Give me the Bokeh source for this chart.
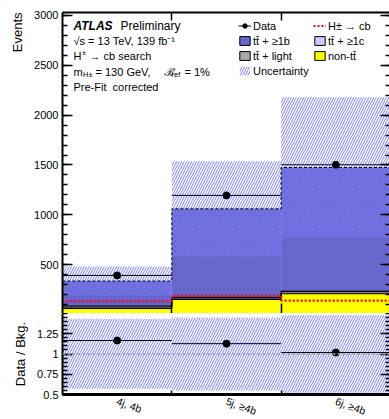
import numpy as np
from bokeh.plotting import figure
from bokeh.layouts import column
from bokeh.models import (FixedTicker, LinearAxis, Range1d, Legend, LegendItem,
                          Label, Title, Span)
from bokeh.embed import file_html
from bokeh.resources import INLINE

# ---------------- data ----------------
bins = ["4j, 4b", "5j, \u22654b", "6j, \u22654b"]
edges = [0, 1, 2, 3]
non_tt = [60, 150, 208]
tt_light = [15, 14, 20]
tt_1c = [10, 8, 6]
tt_1b = [251, 888, 1241]
uncertainty = [145, 478, 705]
data = [392, 1195, 1502]
signal = [133, 186, 140]

FONT = "Liberation Sans"

left = edges[:-1]
right = edges[1:]
c1 = np.array(non_tt, float)
c2 = c1 + np.array(tt_light)
c3 = c2 + np.array(tt_1c)
total = c3 + np.array(tt_1b)
unc = np.array(uncertainty, float)
dat = np.array(data, float)
ratio = dat / total
rel = unc / total


def stepy(v):
    v = list(v)
    return v + [v[-1]]


# ---------------- upper panel ----------------
Y0, Y1 = 10, 3030
p1 = figure(frame_width=328, frame_height=301, x_range=Range1d(0, 3),
            y_range=Range1d(Y0, Y1), output_backend="svg", toolbar_location=None,
            min_border_left=61, min_border_right=0, min_border_top=12,
            min_border_bottom=0)
p1.outline_line_color = None
p1.grid.visible = False
p1.background_fill_color = "white"

HATCH = "#7e7eff"
HSCALE = 5
stack_cols = ["#ffff00", "#a9a9a9", "#ccccff", "#6666cc"]
bottoms = [np.zeros(3), c1, c2, c3]
tops = [c1, c2, c3, total]
for b, t, col in zip(bottoms, tops, stack_cols):
    p1.quad(left=left, right=right, bottom=b, top=t, fill_color=col, line_color=None)

unc_r = p1.quad(left=left, right=right, bottom=total - unc, top=total + unc,
                fill_alpha=0, line_color=None, hatch_pattern="/",
                hatch_color=HATCH, hatch_weight=1, hatch_scale=HSCALE)

for t in [c1, c2, c3]:
    p1.step(x=edges, y=stepy(t), mode="after", line_color="black", line_width=1)
p1.step(x=edges, y=stepy(total), mode="after", line_color="black",
        line_width=1, line_dash="3 2")

sig_r = p1.step(x=edges, y=stepy(signal), mode="after", line_color="#ff0000",
                line_width=2.2, line_dash="2 2")

seg_r = p1.segment(x0=left, x1=right, y0=dat, y1=dat, line_color="black", line_width=1)
pts_r = p1.scatter(x=[0.5, 1.5, 2.5], y=dat, size=7, fill_color="black",
                   line_color="black")

# legend proxies: zero-height boxes at the foot of the stack (outside the view)
prox = {}
for name, col in zip(["nontt", "light", "c", "b"], stack_cols):
    prox[name] = p1.quad(left=left, right=right, bottom=c1 * 0, top=c1 * 0,
                         fill_color=col, line_color="black", line_width=1)

common = dict(background_fill_alpha=0, border_line_color=None, padding=0,
              margin=0, spacing=2, glyph_width=13, glyph_height=11,
              label_height=13, label_standoff=2, label_text_font_size="11px",
              label_text_font=FONT, label_text_color="black")
leg_l = Legend(items=[
    LegendItem(label="Data", renderers=[seg_r, pts_r]),
    LegendItem(label="tt\u0304 + \u22651b", renderers=[prox["b"]]),
    LegendItem(label="tt\u0304 + light", renderers=[prox["light"]]),
    LegendItem(label="Uncertainty", renderers=[unc_r]),
], location=(176, 236), **common)
leg_r = Legend(items=[
    LegendItem(label="H\u00b1 \u2192 cb", renderers=[sig_r]),
    LegendItem(label="tt\u0304 + \u22651c", renderers=[prox["c"]]),
    LegendItem(label="non-tt\u0304", renderers=[prox["nontt"]]),
], location=(251, 251), **common)
p1.add_layout(leg_l, "center")
p1.add_layout(leg_r, "center")


def px(xp):
    return (xp - 61) / 328 * 3


def py(yp):
    return Y0 + (313 - yp) / 301 * (Y1 - Y0)


def lab(xp, yp, text, size=11, style="normal", dy=0):
    p1.add_layout(Label(x=px(xp), y=py(yp), text=text, text_font=FONT,
                        text_font_size=f"{size}px", text_font_style=style,
                        text_color="black", text_baseline="middle",
                        y_offset=dy))


lab(72, 25, "ATLAS", 12, "bold italic")
lab(119, 25, "Preliminary", 12)
lab(72, 40.5, "\u221as = 13 TeV, 139 fb\u207b\u00b9")
lab(72, 55.5, "H")
lab(80.5, 55.5, "\u00b1", 7.5, dy=4)
lab(88, 55.5, "\u2192 cb search")
lab(72, 71, "m")
lab(81.5, 71, "H\u00b1", 7.5, dy=-3)
lab(94, 71, "= 130 GeV,")
lab(162, 71, "\u212c", 11, "italic")
lab(170, 71, "ref", 7.5, dy=-3)
lab(183, 71, "= 1%")
lab(72, 86, "Pre-Fit\u00a0 corrected")

# axes
major_y = [500, 1000, 1500, 2000, 2500, 3000]
minor_y = [v for v in range(100, 3001, 100)]


def style_axis(ax, labels=True, lw=2):
    ax.major_tick_in = 10
    ax.major_tick_out = 0
    ax.minor_tick_in = 5
    ax.minor_tick_out = 0
    ax.axis_line_width = lw
    ax.axis_line_color = "black"
    ax.major_tick_line_color = "black"
    ax.minor_tick_line_color = "black"
    ax.major_tick_line_width = 1.5
    ax.minor_tick_line_width = 1.5
    ax.major_label_text_font = FONT
    if labels:
        ax.major_label_text_color = "black"
        ax.major_label_text_font_size = "11px"
        ax.major_label_standoff = 4
    else:
        ax.major_label_text_color = None
        ax.major_label_text_font_size = "0px"
        ax.major_label_standoff = 0


ly = p1.yaxis[0]
ly.ticker = FixedTicker(ticks=major_y, minor_ticks=minor_y)
style_axis(ly)
ry = LinearAxis(ticker=FixedTicker(ticks=major_y, minor_ticks=minor_y))
style_axis(ry, labels=False)
p1.add_layout(ry, "right")
bx = p1.xaxis[0]
bx.ticker = FixedTicker(ticks=[1, 2], minor_ticks=[])
style_axis(bx, labels=False)
bx.axis_line_color = None
tx = LinearAxis(ticker=FixedTicker(ticks=[1, 2], minor_ticks=[]))
style_axis(tx, labels=False)
tx.major_tick_in = 8
p1.add_layout(tx, "above")
p1.add_layout(Title(text="Events", align="right", text_font=FONT,
                    text_font_size="13px", text_font_style="normal",
                    text_color="black", standoff=14), "left")

# ---------------- ratio panel ----------------
p2 = figure(frame_width=328, frame_height=81, x_range=p1.x_range,
            y_range=Range1d(0.5, 1.5), output_backend="svg",
            toolbar_location=None, min_border_left=61, min_border_right=0,
            min_border_top=0, min_border_bottom=0)
p2.outline_line_color = None
p2.grid.visible = False
p2.quad(left=left, right=right, bottom=1 - rel, top=1 + rel, fill_alpha=0,
        line_color=None, hatch_pattern="/", hatch_color=HATCH, hatch_weight=1,
        hatch_scale=HSCALE)
p2.add_layout(Span(location=1, dimension="width", line_color="#999999",
                   line_dash="3 2", line_width=1.5))
p2.segment(x0=left, x1=right, y0=ratio, y1=ratio, line_color="black", line_width=1)
p2.scatter(x=[0.5, 1.5, 2.5], y=ratio, size=7, fill_color="black", line_color="black")

major_r = [0.5, 0.75, 1.0, 1.25]
minor_r = [round(0.5 + 0.05 * i, 2) for i in range(21)]
ly2 = p2.yaxis[0]
ly2.ticker = FixedTicker(ticks=major_r, minor_ticks=minor_r)
style_axis(ly2)
ly2.major_label_overrides = {0.5: "0.5", 0.75: "0.75", 1.0: "1", 1.25: "1.25"}
ry2 = LinearAxis(ticker=FixedTicker(ticks=major_r, minor_ticks=minor_r))
style_axis(ry2, labels=False)
p2.add_layout(ry2, "right")
bx2 = p2.xaxis[0]
bx2.ticker = FixedTicker(ticks=[0.5, 1.5, 2.5], minor_ticks=[1, 2])
style_axis(bx2, lw=3)
bx2.major_tick_in = 0
bx2.minor_tick_in = 4
bx2.major_label_overrides = {0.5: bins[0], 1.5: bins[1], 2.5: bins[2]}
bx2.major_label_orientation = -0.35
bx2.major_label_text_font_size = "10.5px"
bx2.major_label_standoff = 6
p2.add_layout(Title(text="Data / Bkg.", align="center", text_font=FONT,
                    text_font_size="13px", text_font_style="normal",
                    text_color="black", standoff=14), "left")

layout = column(p1, p2, spacing=0)
open("out.html", "w").write(file_html(layout, INLINE))
